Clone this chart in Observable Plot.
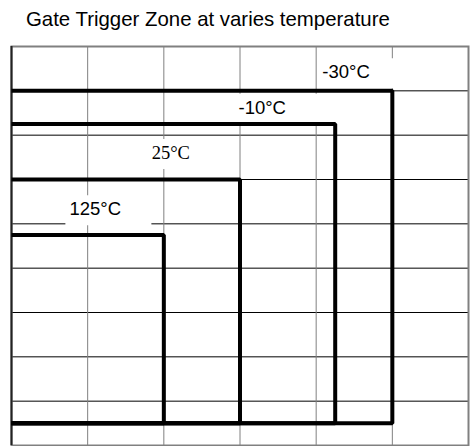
<!DOCTYPE html>
<html>
<head>
<meta charset="utf-8">
<script src="https://cdn.jsdelivr.net/npm/d3@7"></script>
<script src="https://cdn.jsdelivr.net/npm/@observablehq/plot@0.6"></script>
<style>
  html, body { margin: 0; padding: 0; background: #fff; }
  #title {
    box-sizing: border-box; height: 36px; padding: 2px 0 0 26px;
    font: 20.4px/34px "Liberation Sans", Arial, sans-serif; color: #000; white-space: nowrap;
  }
  #chart svg { display: block; }
</style>
</head>
<body>
<div id="title">Gate Trigger Zone at varies temperature</div>
<div id="chart"></div>
<script>
// grid ticks (grid units)
const xTicks = [0, 1, 2, 3, 4, 5, 6];
const yTicks = [0, 1, 2, 3, 4, 5, 6, 7, 8, 9];

// trigger zones per temperature
const temps = ["-30°C", "-10°C", "25°C", "125°C"];
const zoneRight = [5, 4.25, 3, 2];
const zoneTop = [8, 7.25, 6, 4.75];
const zoneBottom = [0.5, 0.5, 0.5, 0.5];

// label anchors (grid units)
const labelX = [4.08, 2.98, 1.84, 0.76];
const labelY = [8.42, 7.62, 6.60, 5.33];
const labelSerif = [false, false, true, false];

const zonePoints = temps.flatMap((t, i) => [
  {temp: t, x: 0, y: zoneTop[i]},
  {temp: t, x: zoneRight[i], y: zoneTop[i]},
  {temp: t, x: zoneRight[i], y: zoneBottom[i]},
  {temp: t, x: 0, y: zoneBottom[i]}
]);
const labels = temps.map((t, i) => ({text: t, x: labelX[i], y: labelY[i], serif: labelSerif[i]}));

const labelBox = {
  draw(ctx) {
    ctx.moveTo(-4, -14); ctx.lineTo(82, -14); ctx.lineTo(82, 16); ctx.lineTo(-4, 16); ctx.closePath();
  }
};

const chart = Plot.plot({
  width: 470,
  height: 410,
  marginTop: 10,
  marginBottom: 1,
  marginLeft: 11,
  marginRight: 2,
  x: {domain: [0, 6], axis: null},
  y: {domain: [0, 9], axis: null},
  marks: [
    Plot.gridY(yTicks, {stroke: "#000", strokeOpacity: 1, strokeWidth: 1}),
    Plot.gridX(xTicks, {stroke: "#808080", strokeOpacity: 1, strokeWidth: 1}),
    Plot.dot(labels, {x: "x", y: "y", symbol: labelBox, r: 1, fill: "white", stroke: "none"}),
    Plot.frame({stroke: "#808080", strokeWidth: 2}),
    Plot.ruleX([0], {stroke: "#222", strokeWidth: 2}),
    Plot.line(zonePoints, {x: "x", y: "y", z: "temp", stroke: "#000", strokeWidth: 4, strokeLinejoin: "miter", strokeLinecap: "butt"}),
    Plot.text(labels.filter(d => !d.serif), {x: "x", y: "y", text: "text", textAnchor: "start", fontSize: 18.5, fontFamily: "Liberation Sans", fill: "#000"}),
    Plot.text(labels.filter(d => d.serif), {x: "x", y: "y", text: "text", textAnchor: "start", fontSize: 18.5, fontFamily: "Liberation Serif", fill: "#000"})
  ]
});
document.getElementById("chart").appendChild(chart);
</script>
</body>
</html>
